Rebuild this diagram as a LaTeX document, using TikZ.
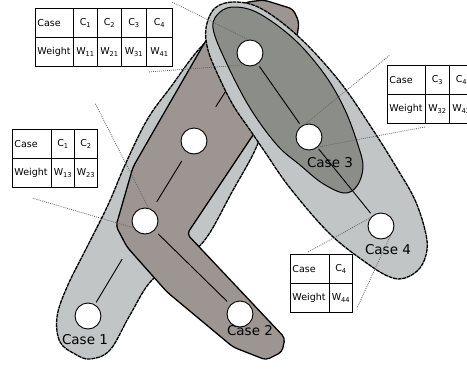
\documentclass[tikz,border=0pt]{standalone}
\usepackage{fontspec}
\setmainfont{DejaVu Sans}
\usetikzlibrary{calc}
\definecolor{pale}{RGB}{194,197,197}
\definecolor{taupe}{RGB}{156,149,146}
\definecolor{slate}{RGB}{139,141,136}
\pgfdeclarelayer{caseone}\pgfdeclarelayer{casetwo}\pgfdeclarelayer{casefour}\pgfdeclarelayer{casethree}
\pgfsetlayers{caseone,casetwo,casefour,casethree,main}

\begin{document}
\begin{tikzpicture}[x=1pt,y=-1pt,
  ball/.style={circle,draw,fill=white,line width=0.9,minimum size=26,inner sep=0},
  blob/.style={draw,line width=1.3,line join=round},
  soft/.style={blob,dash pattern=on 4pt off 0.7pt},
  link/.style={line width=0.9},
  call/.style={draw=black!60,line width=0.8,dash pattern=on 0.9pt off 1.1pt},
  lbl/.style={font=\fontsize{13.5}{16}\selectfont,inner sep=0},
  cell/.style={draw,fill=white,line width=0.9,anchor=north west,minimum height=29,inner sep=0,font=\fontsize{9.5}{11}\selectfont},
  head/.style={cell,text width=34,align=left,inner xsep=2}]
  \useasboundingbox (0,0) rectangle (467,368);
  \node[ball] (top) at (250,53) {}; \node[ball] (mid) at (194,141) {}; \node[ball] (jct) at (145,221) {};
  \node[ball] (c1) at (88,316) {}; \node[ball] (c2) at (240,314) {}; \node[ball] (c3) at (309,137) {}; \node[ball] (c4) at (381,226) {};
  \node[lbl] (l1) at (85,340) {Case 1}; \node[lbl] (l2) at (250,331) {Case 2};
  \node[lbl] (l3) at (330,163) {Case 3}; \node[lbl] (l4) at (388,250) {Case 4};
  % weight tables
  \node[head] (tah) at (35,8) {Case}; \node[head] (taw) at (35,37) {Weight};
  \foreach \x/\w/\c/\v [count=\i] in {73/24/1/11,97/24/2/21,121/25/3/31,146/26/4/41} {\node[cell,minimum width=\w] (ta\i) at (\x,8) {C\textsubscript{\c}}; \node[cell,minimum width=\w] (tb\i) at (\x,37) {W\textsubscript{\v}};}
  \node[head] (tch) at (387,65) {Case}; \node[head] (tcw) at (387,94) {Weight};
  \foreach \x/\c/\v [count=\i] in {425/3/32,449/4/42} {\node[cell,minimum width=24] (tc\i) at (\x,65) {C\textsubscript{\c}}; \node[cell,minimum width=24] (td\i) at (\x,94) {W\textsubscript{\v}};}
  \node[head,text width=35] (teh) at (12,129) {Case}; \node[head,text width=35] (tew) at (12,158) {Weight};
  \foreach \x/\c/\v [count=\i] in {51/1/13,74/2/23} {\node[cell,minimum width=23] (te\i) at (\x,129) {C\textsubscript{\c}}; \node[cell,minimum width=23] (tf\i) at (\x,158) {W\textsubscript{\v}};}
  \node[head,text width=35] (tgh) at (290,254) {Case}; \node[head,text width=35] (tgw) at (290,283) {Weight};
  \node[cell,minimum width=23] (tg1) at (329,254) {C\textsubscript{4}}; \node[cell,minimum width=23] (th1) at (329,283) {W\textsubscript{44}};
  % callouts
  \draw[call] (top.97) -- (172,2); \draw[call] (top.242) -- (148,72);
  \draw[call] (c3.108) -- (390,55); \draw[call] (c3.312) -- (425,127);
  \draw[call] (jct.75) -- (95,103); \draw[call] (jct.210) -- (32,198);
  \draw[call] (c4.142) -- (308,252); \draw[call] (c4.315) -- (357,308);
  \begin{pgfonlayer}{caseone}
    \draw[soft,fill=pale] plot[smooth cycle,tension=0.6] coordinates {(240,25) (205,43) (170,88) (147,120) (125,165) (108,205) (87,247) (67,287) (57,317) (60,342) (75,354) (90,359) (110,350) (130,315) (152,280) (185,258) (207,237) (232,192) (256,148) (268,110) (265,65)};
    \draw[link,shorten <=2.5,shorten >=31] (c1) -- (jct);
  \end{pgfonlayer}
  \begin{pgfonlayer}{casetwo}
    \draw[blob,fill=taupe,rounded corners=4] (247,2) -- (264,0) -- (293,9) -- (299,22) -- (296,45) -- (280,100) -- (253,135) -- (187,234) -- (285,338) -- (282,352) -- (266,360) -- (233,347) -- (167,292) -- (127,247) -- (116,226) -- (133,167) -- (160,120) -- (205,42) -- (228,12) -- cycle;
    \draw[link,shorten <=12,shorten >=27] (top) -- (mid); \draw[link,shorten <=10,shorten >=9] (mid) -- (jct); \draw[link,shorten <=5,shorten >=4.5] (jct) -- (c2);
  \end{pgfonlayer}
  \begin{pgfonlayer}{casefour}
    \draw[soft,fill=pale] plot[smooth cycle,tension=0.6] coordinates {(206,28) (215,8) (235,2) (262,9) (300,38) (340,82) (373,130) (398,170) (415,200) (425,230) (427,250) (420,268) (405,278) (390,277) (368,264) (330,234) (290,188) (265,152) (250,130) (233,105) (218,75) (208,50)};
  \end{pgfonlayer}
  \begin{pgfonlayer}{casethree}
    \draw[blob,line width=1,fill=slate] plot[smooth cycle,tension=0.6] coordinates {(213,28) (220,12) (236,7) (260,14) (295,40) (325,75) (345,110) (358,145) (363,167) (357,186) (344,193) (322,183) (300,165) (277,145) (250,108) (226,62)};
    \draw[link,shorten <=3,shorten >=3] (top) -- (c3); \draw[link,shorten <=2,shorten >=3] (c3) -- (c4);
  \end{pgfonlayer}
\end{tikzpicture}
\end{document}
